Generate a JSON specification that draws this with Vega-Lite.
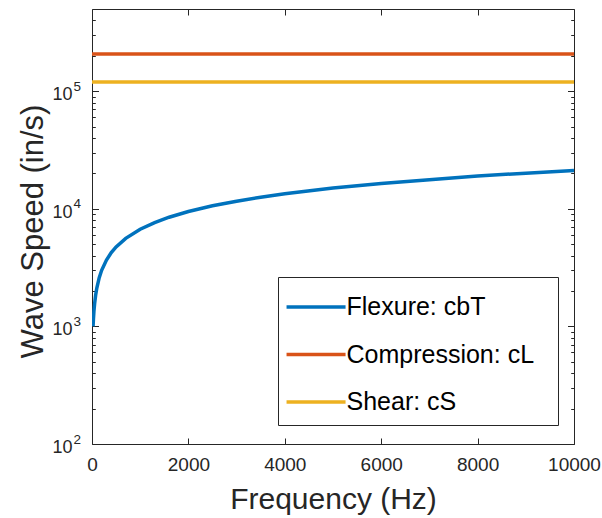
{
  "$schema": "https://vega.github.io/schema/vega-lite/v6.json",
  "width": 482,
  "height": 435,
  "autosize": {"type": "none"},
  "padding": {"left": 92, "top": 9, "right": 28, "bottom": 74},
  "background": "white",
  "config": {
    "font": "Liberation Sans",
    "view": {"stroke": null},
    "axis": {"grid": false, "domainColor": "#262626", "tickColor": "#262626", "labelColor": "#262626", "titleColor": "#262626", "titleFontWeight": "normal", "labelFont": "Liberation Sans", "titleFont": "Liberation Sans", "labelFlush": false, "labelOverlap": false}
  },
  "datasets": {
    "speeds": [
      {"series": "Flexure: cbT", "f": 22, "v": 1000},
      {"series": "Flexure: cbT", "f": 30, "v": 1160},
      {"series": "Flexure: cbT", "f": 40, "v": 1340},
      {"series": "Flexure: cbT", "f": 55, "v": 1570},
      {"series": "Flexure: cbT", "f": 75, "v": 1840},
      {"series": "Flexure: cbT", "f": 100, "v": 2120},
      {"series": "Flexure: cbT", "f": 150, "v": 2600},
      {"series": "Flexure: cbT", "f": 200, "v": 3000},
      {"series": "Flexure: cbT", "f": 300, "v": 3670},
      {"series": "Flexure: cbT", "f": 400, "v": 4240},
      {"series": "Flexure: cbT", "f": 500, "v": 4740},
      {"series": "Flexure: cbT", "f": 700, "v": 5610},
      {"series": "Flexure: cbT", "f": 1000, "v": 6700},
      {"series": "Flexure: cbT", "f": 1300, "v": 7640},
      {"series": "Flexure: cbT", "f": 1600, "v": 8480},
      {"series": "Flexure: cbT", "f": 2000, "v": 9480},
      {"series": "Flexure: cbT", "f": 2500, "v": 10600},
      {"series": "Flexure: cbT", "f": 3000, "v": 11600},
      {"series": "Flexure: cbT", "f": 3500, "v": 12540},
      {"series": "Flexure: cbT", "f": 4000, "v": 13400},
      {"series": "Flexure: cbT", "f": 5000, "v": 15000},
      {"series": "Flexure: cbT", "f": 6000, "v": 16400},
      {"series": "Flexure: cbT", "f": 7000, "v": 17700},
      {"series": "Flexure: cbT", "f": 8000, "v": 19000},
      {"series": "Flexure: cbT", "f": 9000, "v": 20100},
      {"series": "Flexure: cbT", "f": 10000, "v": 21200},
      {"series": "Compression: cL", "f": 0, "v": 207000},
      {"series": "Compression: cL", "f": 10000, "v": 207000},
      {"series": "Shear: cS", "f": 0, "v": 120000},
      {"series": "Shear: cS", "f": 10000, "v": 120000}
    ]
  },
  "data": {"name": "speeds"},
  "layer": [
    {
      "mark": {"type": "line", "strokeWidth": 3.5, "clip": true},
      "encoding": {
        "x": {
          "field": "f", "type": "quantitative",
          "scale": {"domain": [0, 10000], "nice": false, "zero": false},
          "axis": {
            "orient": "bottom", "values": [0, 2000, 4000, 6000, 8000, 10000], "format": "d",
            "labelFontSize": 19, "labelPadding": 17.5, "tickSize": -6,
            "title": "Frequency (Hz)", "titleFontSize": 30, "titleBaseline": "alphabetic",
            "titleX": 241, "titleY": 64, "titleAlign": "center"
          }
        },
        "y": {
          "field": "v", "type": "quantitative",
          "scale": {"type": "log", "domain": [100, 500000], "nice": false},
          "axis": {
            "orient": "left",
            "values": [100, 1000, 10000, 100000],
            "labelExpr": "'10'",
            "labelFontSize": 18, "labelPadding": 20, "labelOffset": 3.4,
            "tickSize": 0, "tickOpacity": 0,
            "title": "Wave Speed (in/s)", "titleFontSize": 31, "titleBaseline": "alphabetic",
            "titleX": -50, "titleY": 222, "titleAlign": "center", "titleAngle": -90
          }
        },
        "color": {
          "field": "series", "type": "nominal",
          "scale": {"domain": ["Flexure: cbT", "Compression: cL", "Shear: cS"], "range": ["#0072BD", "#D95319", "#EDB120"]},
          "legend": {
            "orient": "none", "legendX": 186, "legendY": 268,
            "title": "W", "titleOrient": "right", "titleFontSize": 14, "titlePadding": 0, "titleOpacity": 0,
            "strokeColor": "#262626", "fillColor": "white", "padding": 9.5, "rowPadding": 13.5,
            "symbolType": "M-1.16,0H2.03", "symbolSize": 1369, "symbolStrokeWidth": 3.5,
            "labelFontSize": 25, "labelOffset": 18, "labelColor": "#000000", "labelLimit": 0
          }
        }
      }
    },
    {
      "mark": {"type": "line", "opacity": 0},
      "encoding": {
        "x": {
          "field": "f", "type": "quantitative",
          "axis": {"orient": "top", "values": [0, 2000, 4000, 6000, 8000, 10000], "labels": false, "tickSize": -6, "title": null}
        },
        "y": {
          "field": "v", "type": "quantitative",
          "axis": {"orient": "left", "values": [100, 1000, 10000, 100000], "labels": false, "tickSize": -6.5, "domain": false, "title": null}
        },
        "detail": {"field": "series", "type": "nominal"}
      }
    },
    {
      "mark": {"type": "line", "opacity": 0},
      "encoding": {
        "x": {"field": "f", "type": "quantitative", "axis": null},
        "y": {
          "field": "v", "type": "quantitative",
          "axis": {"orient": "left", "values": [200, 300, 400, 500, 600, 700, 800, 900, 2000, 3000, 4000, 5000, 6000, 7000, 8000, 9000, 20000, 30000, 40000, 50000, 60000, 70000, 80000, 90000, 200000, 300000, 400000], "labels": false, "tickSize": -3.3, "domain": false, "title": null}
        },
        "detail": {"field": "series", "type": "nominal"}
      }
    },
    {
      "mark": {"type": "line", "opacity": 0},
      "encoding": {
        "x": {"field": "f", "type": "quantitative", "axis": null},
        "y": {
          "field": "v", "type": "quantitative",
          "axis": {"orient": "right", "values": [100, 1000, 10000, 100000], "labels": false, "tickSize": -6.5, "title": null}
        },
        "detail": {"field": "series", "type": "nominal"}
      }
    },
    {
      "mark": {"type": "line", "opacity": 0},
      "encoding": {
        "x": {"field": "f", "type": "quantitative", "axis": null},
        "y": {
          "field": "v", "type": "quantitative",
          "axis": {"orient": "right", "values": [200, 300, 400, 500, 600, 700, 800, 900, 2000, 3000, 4000, 5000, 6000, 7000, 8000, 9000, 20000, 30000, 40000, 50000, 60000, 70000, 80000, 90000, 200000, 300000, 400000], "labels": false, "tickSize": -3.3, "domain": false, "title": null}
        },
        "detail": {"field": "series", "type": "nominal"}
      }
    },
    {
      "mark": {"type": "line", "opacity": 0},
      "encoding": {
        "x": {"field": "f", "type": "quantitative", "axis": null},
        "y": {
          "field": "v", "type": "quantitative",
          "axis": {"orient": "left", "values": [100, 1000, 10000, 100000], "labelExpr": "format(log(datum.value)/LN10, '.0f')", "labelAlign": "left", "labelFontSize": 13.5, "labelPadding": 19, "labelOffset": -5, "tickSize": 0, "tickOpacity": 0, "domain": false, "title": null}
        },
        "detail": {"field": "series", "type": "nominal"}
      }
    }
  ],
  "resolve": {"axis": {"x": "independent", "y": "independent"}}
}
